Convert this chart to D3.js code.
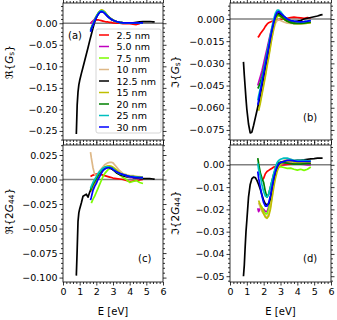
<!DOCTYPE html>
<html><head><meta charset="utf-8">
<script src="https://cdn.jsdelivr.net/npm/d3@7"></script>
<style>body{margin:0;background:#fff}svg text{font-family:"DejaVu Sans",sans-serif;fill:#000}</style>
</head><body><svg id="chart" width="337" height="320"></svg>
<script>
// ---------- data ----------
const seriesNames = ["2.5 nm","5.0 nm","7.5 nm","10 nm","12.5 nm","15 nm","20 nm","25 nm","30 nm"];
const seriesColors = ["#ff0000","#bf00bf","#7cfc00","#deb887","#000000","#bfbf00","#008000","#00bfbf","#0000ff"];
const E_film = [1.65,1.7,1.8,1.9,2.0,2.1,2.2,2.3,2.4,2.5,2.6,2.7,2.8,2.9,3.0,3.2,3.4,3.6,3.8,4.0,4.2,4.4,4.6,4.8];
const E_bulk = [0.8,0.85,0.9,0.95,1.0,1.1,1.2,1.3,1.4,1.5,1.6,1.7,1.8,1.9,2.0,2.1,2.2,2.3,2.4,2.5,2.6,2.7,2.8,2.9,3.0,3.2,3.4,3.6,3.8,4.0,4.2,4.4,4.6,4.8,5.0,5.2,5.4,5.5];
const xTicks = [0,1,2,3,4,5,6];

// (a) Re{Gs}
const reGs_2p5 = [0.001,0.002,0.005,0.007,0.008,0.008,0.007,0.006,0.005,0.004,0.003,0.003,0.002,0.002,0.001,0.000,0.000,-0.001,-0.001,-0.001,-0.002,-0.003,-0.001,null];
const reGs_5 = [-0.001,0.001,0.005,0.010,0.016,0.022,0.026,0.028,0.027,0.024,0.020,0.016,0.012,0.009,0.007,0.004,0.002,0.001,0.001,0.001,0.001,0.001,0.001,0.001];
const reGs_7p5 = [null,-0.012,-0.002,0.008,0.016,0.023,0.028,0.030,0.029,0.026,0.021,0.016,0.012,0.009,0.007,0.004,0.002,0.001,0.000,0.000,0.000,0.000,0.000,0.000];
const reGs_10 = [null,-0.010,-0.001,0.008,0.016,0.022,0.027,0.029,0.028,0.025,0.021,0.016,0.012,0.009,0.007,0.004,0.002,0.001,0.001,0.001,0.001,0.001,0.001,0.001];
const reGs_12p5 = [-0.257,-0.19,-0.16,-0.143,-0.133,-0.117,-0.102,-0.087,-0.072,-0.057,-0.041,-0.026,-0.011,0.003,0.013,0.021,0.026,0.028,0.027,0.024,0.020,0.016,0.013,0.010,0.007,0.004,0.002,0.001,0.001,0.001,0.001,0.002,0.003,0.004,0.004,0.004,0.003,0.003];
const reGs_15 = [null,-0.013,-0.003,0.007,0.016,0.023,0.028,0.031,0.030,0.027,0.022,0.017,0.013,0.010,0.007,0.004,0.002,0.001,0.001,0.001,0.001,0.001,0.001,0.001];
const reGs_20 = [-0.016,-0.011,-0.002,0.007,0.015,0.021,0.026,0.028,0.027,0.024,0.020,0.016,0.012,0.009,0.007,0.004,0.002,0.001,0.001,0.001,0.001,0.001,0.001,0.001];
const reGs_25 = [-0.018,-0.012,-0.002,0.007,0.015,0.022,0.027,0.029,0.028,0.025,0.020,0.016,0.012,0.009,0.007,0.004,0.002,0.001,0.001,0.001,0.001,0.001,0.001,0.001];
const reGs_30 = [-0.020,-0.014,-0.004,0.005,0.013,0.020,0.025,0.027,0.026,0.023,0.019,0.015,0.012,0.009,0.007,0.004,0.002,0.001,0.001,0.001,0.001,0.001,0.001,0.001];

// (b) Im{Gs}
const imGs_2p5 = [-0.0125,-0.012,-0.010,-0.0085,-0.007,-0.005,-0.0035,-0.0025,-0.002,-0.0015,-0.0012,-0.001,-0.0008,-0.0005,-0.0003,0.000,0.0005,0.001,0.0012,0.001,0.0008,0.0005,0.001,0.0005];
const imGs_5 = [-0.045,-0.043,-0.039,-0.035,-0.030,-0.025,-0.020,-0.015,-0.010,-0.006,-0.002,0.001,0.003,0.003,0.002,0.000,-0.001,-0.002,-0.0025,-0.0025,-0.0025,-0.0022,-0.002,-0.0018];
const imGs_7p5 = [null,-0.060,-0.055,-0.049,-0.043,-0.037,-0.030,-0.024,-0.017,-0.011,-0.005,-0.001,0.0015,0.002,0.0015,0.000,-0.0015,-0.0025,-0.003,-0.003,-0.003,-0.003,-0.0028,-0.0025];
const imGs_10 = [null,-0.058,-0.053,-0.048,-0.042,-0.036,-0.030,-0.024,-0.018,-0.012,-0.007,-0.003,-0.001,-0.0005,-0.001,-0.002,-0.0028,-0.003,-0.0032,-0.0032,-0.003,-0.003,-0.0028,-0.0025];
const imGs_12p5 = [-0.029,-0.038,-0.046,-0.054,-0.061,-0.071,-0.077,-0.0765,-0.072,-0.067,-0.062,-0.057,-0.051,-0.045,-0.039,-0.033,-0.027,-0.021,-0.015,-0.009,-0.004,0.000,0.003,0.004,0.003,0.001,-0.001,-0.002,-0.002,-0.0015,-0.001,0.000,0.0005,0.001,0.0015,0.002,0.0028,0.003];
const imGs_15 = [null,-0.062,-0.057,-0.051,-0.045,-0.039,-0.032,-0.026,-0.019,-0.012,-0.006,-0.001,0.002,0.0025,0.002,0.000,-0.0015,-0.0025,-0.003,-0.0032,-0.0032,-0.003,-0.0028,-0.0025];
const imGs_20 = [-0.047,-0.046,-0.043,-0.039,-0.034,-0.029,-0.023,-0.017,-0.012,-0.007,-0.002,0.001,0.003,0.003,0.002,0.000,-0.0015,-0.0025,-0.003,-0.003,-0.003,-0.0028,-0.0025,-0.0022];
const imGs_25 = [-0.055,-0.052,-0.047,-0.041,-0.035,-0.029,-0.023,-0.017,-0.011,-0.005,0.000,0.004,0.006,0.006,0.005,0.002,0.000,-0.001,-0.0015,-0.0018,-0.002,-0.0018,-0.0015,-0.001];
const imGs_30 = [-0.058,-0.055,-0.049,-0.043,-0.037,-0.031,-0.025,-0.019,-0.013,-0.007,-0.002,0.002,0.0045,0.005,0.004,0.002,0.000,-0.001,-0.0015,-0.0018,-0.002,-0.0018,-0.0015,-0.001];

// (c) Re{2G44}
const reG44_2p5 = [0.003,0.0035,0.0045,0.005,0.0055,0.0058,0.0055,0.005,0.0045,0.004,0.0035,0.003,0.0025,0.002,0.0015,0.001,0.0005,0.000,-0.001,-0.002,-0.0015,-0.001,-0.0005,0.000];
const reG44_5 = [null,-0.012,-0.008,-0.004,-0.001,0.002,0.005,0.008,0.010,0.0115,0.0125,0.013,0.0125,0.012,0.011,0.008,0.006,0.004,0.003,0.002,0.002,0.0015,0.001,0.001];
const reG44_7p5 = [null,-0.024,-0.020,-0.017,-0.013,-0.009,-0.005,-0.001,0.003,0.006,0.008,0.010,0.011,0.011,0.010,0.007,0.005,0.002,0.000,-0.003,-0.002,-0.001,-0.003,-0.004];
const reG44_10 = [0.028,0.022,0.012,0.005,0.004,0.006,0.009,0.011,0.013,0.015,0.016,0.017,0.0175,0.0176,0.017,0.013,0.009,0.006,0.005,0.004,0.004,0.003,0.003,0.002];
const reG44_12p5 = [-0.098,-0.072,-0.043,-0.034,-0.030,-0.024,-0.017,-0.016,-0.015,-0.018,-0.013,-0.009,-0.006,-0.003,0.000,0.003,0.006,0.008,0.010,0.011,0.012,0.0125,0.012,0.011,0.010,0.007,0.005,0.004,0.003,0.003,0.002,0.002,0.001,0.001,0.001,0.001,0.0005,0.0005];
const reG44_15 = [null,-0.012,-0.008,-0.004,0.000,0.003,0.006,0.009,0.011,0.0125,0.0135,0.014,0.014,0.0135,0.0125,0.010,0.007,0.005,0.004,0.003,0.003,0.003,0.0025,0.002];
const reG44_20 = [-0.011,-0.009,-0.005,-0.002,0.001,0.004,0.007,0.009,0.011,0.012,0.013,0.013,0.0125,0.012,0.011,0.008,0.006,0.005,0.004,0.003,0.003,0.0025,0.002,0.002];
const reG44_25 = [-0.009,-0.007,-0.003,0.000,0.003,0.006,0.008,0.010,0.0115,0.0125,0.013,0.013,0.0125,0.012,0.011,0.008,0.006,0.005,0.004,0.003,0.003,0.0025,0.002,0.002];
const reG44_30 = [-0.021,-0.018,-0.011,-0.007,-0.004,0.000,0.003,0.0063,0.009,0.0107,0.0115,0.012,0.012,0.0115,0.010,0.008,0.0063,0.005,0.004,0.003,0.0025,0.002,0.002,0.002];

// (d) Im{2G44}
const imG44_2p5 = [null,null,null,-0.0069,-0.006,-0.004,-0.003,-0.0025,-0.002,-0.0015,-0.001,-0.0008,-0.0004,-0.0002,0.000,0.000,0.0002,0.0003,0.0003,0.0004,0.0004,0.0005,0.0005,0.0005];
const imG44_5 = [-0.0195,-0.021,-0.0195,-0.0195,-0.020,-0.021,-0.021,-0.019,-0.015,-0.011,-0.007,-0.004,-0.002,-0.001,0.000,0.0005,0.0008,0.0008,0.0005,0.0005,0.0003,0.0002,0.000,0.000];
const imG44_7p5 = [null,-0.017,-0.018,-0.019,-0.021,-0.022,-0.022,-0.020,-0.016,-0.011,-0.007,-0.004,-0.002,-0.001,-0.0008,-0.0012,-0.0016,-0.0015,-0.002,-0.0024,-0.002,-0.0025,-0.002,-0.001];
const imG44_10 = [null,-0.017,-0.019,-0.021,-0.022,-0.023,-0.0235,-0.022,-0.019,-0.014,-0.009,-0.005,-0.002,0.000,0.001,0.002,0.0025,0.0025,0.002,0.002,0.002,0.002,0.002,0.002];
const imG44_12p5 = [-0.050,-0.045,-0.037,-0.030,-0.025,-0.0145,-0.0088,-0.0062,-0.0055,-0.0057,-0.007,-0.0088,-0.011,-0.0135,-0.016,-0.0175,-0.018,-0.0175,-0.015,-0.011,-0.0075,-0.004,-0.0015,0.000,0.001,0.0015,0.0018,0.0018,0.0018,0.002,0.002,0.0022,0.0025,0.0027,0.0028,0.003,0.003,0.003];
const imG44_15 = [null,-0.016,-0.018,-0.020,-0.022,-0.0235,-0.024,-0.023,-0.020,-0.015,-0.010,-0.006,-0.003,-0.001,0.000,0.001,0.0015,0.0015,0.0012,0.001,0.001,0.001,0.001,0.001];
const imG44_20 = [0.003,0.0005,-0.0035,-0.006,-0.008,-0.012,-0.0145,-0.013,-0.010,-0.007,-0.004,-0.002,0.000,0.001,0.0012,0.001,0.0008,0.0005,0.0003,0.0003,0.0003,0.0004,0.0005,0.0005];
const imG44_25 = [0.0006,-0.002,-0.005,-0.009,-0.012,-0.014,-0.0145,-0.013,-0.010,-0.007,-0.004,-0.001,0.001,0.002,0.0025,0.003,0.003,0.0025,0.002,0.002,0.002,0.002,0.0018,0.0018];
const imG44_30 = [-0.003,-0.006,-0.010,-0.014,-0.017,-0.0185,-0.0185,-0.017,-0.014,-0.010,-0.006,-0.003,-0.001,0.0005,0.001,0.0015,0.002,0.002,0.0018,0.0015,0.0015,0.0015,0.0015,0.0015];

const yTicksA = [0,-0.05,-0.10,-0.15,-0.20,-0.25];
const yTicksB = [0,-0.015,-0.030,-0.045,-0.060,-0.075];
const yTicksC = [0.025,0,-0.025,-0.050,-0.075,-0.100];
const yTicksD = [0,-0.01,-0.02,-0.03,-0.04,-0.05];

// ---------- layout ----------
const svg = d3.select("#chart");
const panels = [
  {id:"a", x0:63, x1:163, y0:3, y1:140, dom:[-0.271,0.047], ticks:yTicksA, minor:0.01, fmt:".2f",
   data:[reGs_2p5,reGs_5,reGs_7p5,reGs_10,reGs_12p5,reGs_15,reGs_20,reGs_25,reGs_30],
   lab:["ℜ{","G","s","}"], labX:10, labY:62, tag:"(a)", tagX:68, tagY:39, xlabels:false},
  {id:"b", x0:230, x1:331, y0:3, y1:140, dom:[-0.0818,0.0108], ticks:yTicksB, minor:0.003, fmt:".3f",
   data:[imGs_2p5,imGs_5,imGs_7p5,imGs_10,imGs_12p5,imGs_15,imGs_20,imGs_25,imGs_30],
   lab:["ℑ{","G","s","}"], labX:176, labY:72, tag:"(b)", tagX:303, tagY:121, xlabels:false},
  {id:"c", x0:63, x1:163, y0:145, y1:282, dom:[-0.1045,0.0352], ticks:yTicksC, minor:0.005, fmt:".3f",
   data:[reG44_2p5,reG44_5,reG44_7p5,reG44_10,reG44_12p5,reG44_15,reG44_20,reG44_25,reG44_30],
   lab:["ℜ{2","G","44","}"], labX:10, labY:211, tag:"(c)", tagX:138, tagY:262, xlabels:true},
  {id:"d", x0:230, x1:331, y0:145, y1:282, dom:[-0.0526,0.0089], ticks:yTicksD, minor:0.002, fmt:".2f",
   data:[imG44_2p5,imG44_5,imG44_7p5,imG44_10,imG44_12p5,imG44_15,imG44_20,imG44_25,imG44_30],
   lab:["ℑ{2","G","44","}"], labX:176, labY:213, tag:"(d)", tagX:303, tagY:262, xlabels:true}
];

const defs = svg.append("defs");
const fs = 9.5;

panels.forEach(p => {
  const x = d3.scaleLinear().domain([0,6]).range([p.x0,p.x1]);
  const y = d3.scaleLinear().domain(p.dom).range([p.y1,p.y0]);
  const g = svg.append("g");
  defs.append("clipPath").attr("id","clip"+p.id).append("rect")
    .attr("x",p.x0).attr("y",p.y0).attr("width",p.x1-p.x0).attr("height",p.y1-p.y0);

  // zero line
  g.append("line").attr("x1",p.x0).attr("x2",p.x1).attr("y1",y(0)).attr("y2",y(0))
    .attr("stroke","#808080").attr("stroke-width",1.5);

  // data lines
  const lines = g.append("g").attr("clip-path","url(#clip"+p.id+")");
  p.data.forEach((vals,i) => {
    const Es = vals.length === E_bulk.length ? E_bulk : E_film;
    const pts = vals.map((v,k)=>[Es[k],v]);
    const line = d3.line().defined(d=>d[1]!==null).x(d=>x(d[0])).y(d=>y(d[1]));
    lines.append("path").attr("d",line(pts)).attr("fill","none")
      .attr("stroke",seriesColors[i]).attr("stroke-width",1.7)
      .attr("stroke-linejoin","round").attr("stroke-linecap","butt");
  });

  // axes (ticks outward on all sides)
  const xMinor = d3.range(0,6.0001,0.2).filter(v=>Math.abs(v-Math.round(v))>1e-6);
  const lo = p.dom[0], hi = p.dom[1];
  const yMinor = d3.range(Math.ceil(lo/p.minor)*p.minor, hi, p.minor)
     .filter(v=>!p.ticks.some(t=>Math.abs(t-v)<p.minor/10));
  const bottom = d3.axisBottom(x).tickValues(xTicks).tickSize(3.5).tickPadding(2.5)
     .tickFormat(p.xlabels? d3.format("d") : "");
  const top = d3.axisTop(x).tickValues(xTicks).tickSize(3.5).tickFormat("");
  const left = d3.axisLeft(y).tickValues(p.ticks).tickSize(3.5).tickPadding(2).tickFormat(d3.format(p.fmt));
  const right = d3.axisRight(y).tickValues(p.ticks).tickSize(3.5).tickFormat("");
  g.append("g").attr("transform",`translate(0,${p.y1})`).call(bottom);
  g.append("g").attr("transform",`translate(0,${p.y0})`).call(top);
  g.append("g").attr("transform",`translate(${p.x0},0)`).call(left);
  g.append("g").attr("transform",`translate(${p.x1},0)`).call(right);
  // minor ticks
  g.append("g").attr("transform",`translate(0,${p.y1})`).call(d3.axisBottom(x).tickValues(xMinor).tickSize(2).tickFormat(""));
  g.append("g").attr("transform",`translate(0,${p.y0})`).call(d3.axisTop(x).tickValues(xMinor).tickSize(2).tickFormat(""));
  g.append("g").attr("transform",`translate(${p.x0},0)`).call(d3.axisLeft(y).tickValues(yMinor).tickSize(2).tickFormat(""));
  g.append("g").attr("transform",`translate(${p.x1},0)`).call(d3.axisRight(y).tickValues(yMinor).tickSize(2).tickFormat(""));
  g.selectAll(".domain").remove();
  g.selectAll(".tick line").attr("stroke","#000").attr("stroke-width",0.8);
  g.selectAll(".tick text").attr("font-size",fs).attr("font-family","DejaVu Sans").attr("fill","#000");

  // frame
  g.append("rect").attr("x",p.x0).attr("y",p.y0).attr("width",p.x1-p.x0).attr("height",p.y1-p.y0)
    .attr("fill","none").attr("stroke","#000").attr("stroke-width",0.8);

  // y label
  const t = g.append("text").attr("transform",`translate(${p.labX},${p.labY}) rotate(-90)`)
    .attr("text-anchor","middle").attr("dominant-baseline","middle").attr("font-size",10.5);
  t.append("tspan").text(p.lab[0]);
  t.append("tspan").attr("font-style","italic").text(p.lab[1]);
  t.append("tspan").attr("font-size",7.5).attr("dy",2).text(p.lab[2]);
  t.append("tspan").attr("dy",-2).text(p.lab[3]);

  // panel tag
  g.append("text").attr("x",p.tagX).attr("y",p.tagY).attr("font-size",10).text(p.tag);

  // x label
  if (p.xlabels) {
    g.append("text").attr("x",(p.x0+p.x1)/2).attr("y",315).attr("text-anchor","middle")
      .attr("font-size",10).text("E [eV]");
  }

  // legend in (a)
  if (p.id==="a") {
    const lg = g.append("g");
    lg.append("rect").attr("x",96).attr("y",29).attr("width",65).attr("height",104).attr("rx",2)
      .attr("fill","#fff").attr("fill-opacity",0.8).attr("stroke","#cccccc").attr("stroke-width",0.8);
    seriesNames.forEach((n,i)=>{
      const yy = 35 + i*11.5;
      lg.append("line").attr("x1",99).attr("x2",109).attr("y1",yy).attr("y2",yy)
        .attr("stroke",seriesColors[i]).attr("stroke-width",1.5);
      lg.append("text").attr("x",116.5).attr("y",yy).attr("dominant-baseline","central")
        .attr("font-size",fs).text(n);
    });
  }
});
</script></body></html>
